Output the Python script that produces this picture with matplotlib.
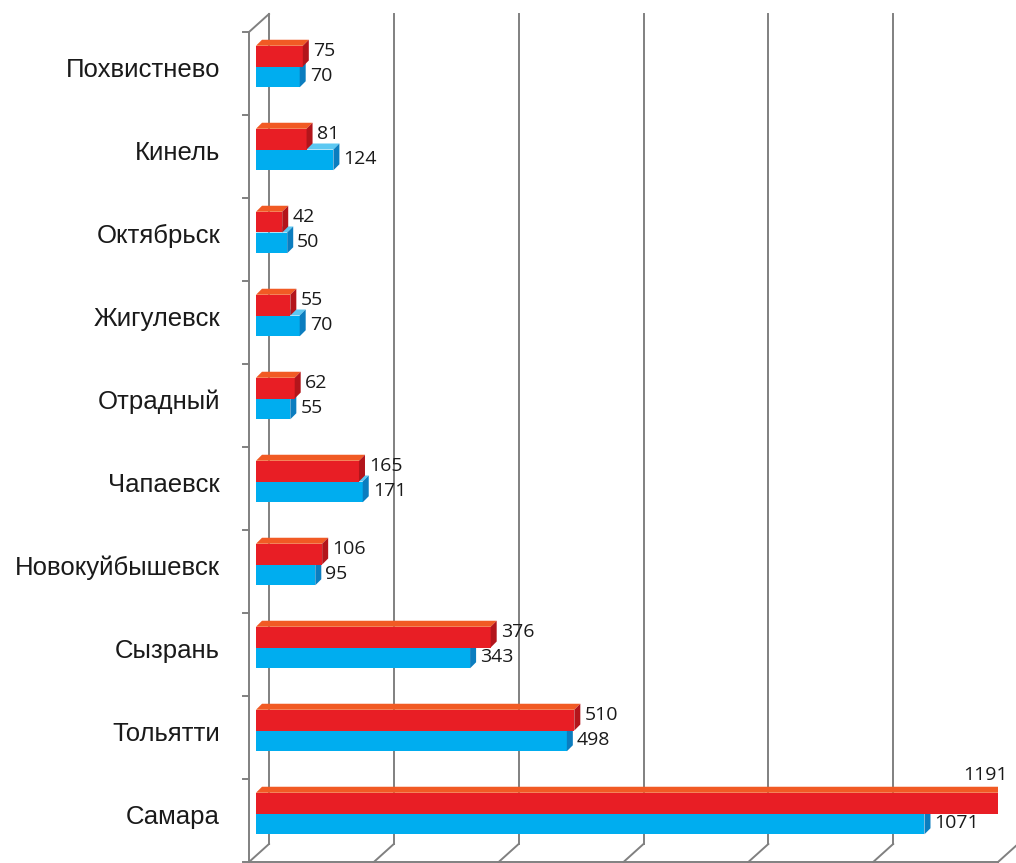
import matplotlib.pyplot as plt
from matplotlib.patches import Polygon

cities = ['Похвистнево', 'Кинель', 'Октябрьск', 'Жигулевск', 'Отрадный',
          'Чапаевск', 'Новокуйбышевск', 'Сызрань', 'Тольятти', 'Самара']
red_vals = [75, 81, 42, 55, 62, 165, 106, 376, 510, 1191]
blue_vals = [70, 124, 50, 70, 55, 171, 95, 343, 498, 1071]
grid_ticks = [0, 200, 400, 600, 800, 1000, 1200]
xmax = 1200

# colours: front, top, side
red_c = ('#e81e25', '#f15a24', '#b3151b')
blue_c = ('#00adef', '#5cc8f2', '#0b7dbf')
grid_c = '#808080'

W, H = 1016, 863
fig = plt.figure(figsize=(W / 100, H / 100), dpi=100)
# front plane of the 3d box, in pixels
ax_l, ax_b, ax_w, ax_h = 249, 1, 749, 830
ax = fig.add_axes([ax_l / W, ax_b / H, ax_w / W, ax_h / H])
n = len(cities)
ax.set_xlim(0, xmax)
ax.set_ylim(n - 0.5, -0.5)
ax.axis('off')

# pixel -> data units
ux = xmax / ax_w
uy = n / ax_h

wall_dx, wall_dy = 20, 18   # depth of the back wall
bar_dx, bar_dy = 7, 7       # bars sit a bit behind the front plane
d = 6                       # thickness of the bars

y_top, y_bot = -0.5, n - 0.5

# back wall gridlines and floor diagonals
for t in grid_ticks:
    ax.plot([t + wall_dx * ux] * 2, [y_bot - wall_dy * uy, y_top - wall_dy * uy],
            color=grid_c, lw=1.4, clip_on=False)
    ax.plot([t, t + wall_dx * ux], [y_bot, y_bot - wall_dy * uy],
            color=grid_c, lw=1.4, clip_on=False)
# left wall: front edge and top diagonal
ax.plot([0, 0], [y_bot, y_top], color=grid_c, lw=1.4, clip_on=False)
ax.plot([0, wall_dx * ux], [y_top, y_top - wall_dy * uy], color=grid_c, lw=1.4, clip_on=False)
ax.plot([0, xmax], [y_bot, y_bot], color=grid_c, lw=1.4, clip_on=False)
for k in range(n + 1):
    ax.plot([-6 * ux, 0], [y_top + k] * 2, color=grid_c, lw=1.4, clip_on=False)


def box(v, y0, y1, cols):
    # front face at y0 (top) .. y1 (bottom), already shifted
    x0 = bar_dx * ux
    ax.barh((y0 + y1) / 2, v, height=y1 - y0, left=x0, color=cols[0], lw=0, zorder=3)
    top = [(x0, y0), (x0 + v, y0), (x0 + v + d * ux, y0 - d * uy), (x0 + d * ux, y0 - d * uy)]
    side = [(x0 + v, y0), (x0 + v + d * ux, y0 - d * uy),
            (x0 + v + d * ux, y1 - d * uy), (x0 + v, y1)]
    ax.add_patch(Polygon(top, closed=True, color=cols[1], lw=0, zorder=3))
    ax.add_patch(Polygon(side, closed=True, color=cols[2], lw=0, zorder=3))
    return x0 + v + d * ux


lab_font = ['Liberation Sans', 'DejaVu Sans']
num_font = ['Open Sans', 'DejaVu Sans']
bh = 0.25
for i, city in enumerate(cities):
    c = i - bar_dy * uy
    xb = box(blue_vals[i], c, c + bh, blue_c)
    xr = box(red_vals[i], c - bh, c, red_c)
    ax.text(xb + 4 * ux, c + bh / 2 - 1 * uy, str(blue_vals[i]), ha='left', va='center',
            fontsize=14, family=num_font, color='#1a1a1a', zorder=4)
    if red_vals[i] > 0.9 * xmax:
        ax.text(xr + 2 * ux, c - bh - 9 * uy, str(red_vals[i]), ha='right', va='bottom',
                fontsize=14, family=num_font, color='#1a1a1a', zorder=4)
    else:
        ax.text(xr + 4 * ux, c - bh / 2 - 5 * uy, str(red_vals[i]), ha='left', va='center',
                fontsize=14, family=num_font, color='#1a1a1a', zorder=4)
    ax.text(-29 * ux, i - 4 * uy, city, ha='right', va='center',
            fontsize=18.5, family=lab_font, color='#1a1a1a')

fig.savefig('out.png', dpi=100)
